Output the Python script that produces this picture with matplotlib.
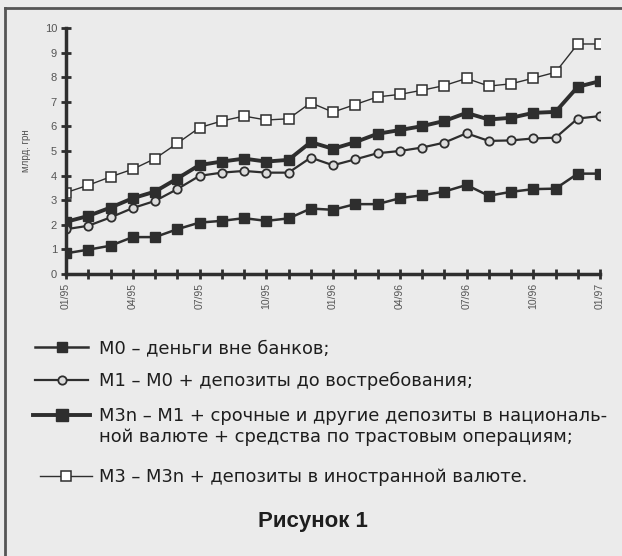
import numpy as np
import matplotlib.pyplot as plt
from matplotlib.lines import Line2D

plt.rcParams['font.family'] = ['Liberation Sans', 'DejaVu Sans']

# months 01/95 .. 01/97
months = ['01/95', '02/95', '03/95', '04/95', '05/95', '06/95', '07/95', '08/95', '09/95',
          '10/95', '11/95', '12/95', '01/96', '02/96', '03/96', '04/96', '05/96', '06/96',
          '07/96', '08/96', '09/96', '10/96', '11/96', '12/96', '01/97']
tick_labels = ['01/95', '04/95', '07/95', '10/95', '01/96', '04/96', '07/96', '10/96', '01/97']

m0 = [0.84, 0.99, 1.15, 1.50, 1.50, 1.82, 2.09, 2.16, 2.27, 2.16, 2.26, 2.66, 2.61,
      2.84, 2.84, 3.08, 3.20, 3.35, 3.62, 3.18, 3.34, 3.45, 3.47, 4.08, 4.08]
m1 = [1.82, 1.96, 2.30, 2.68, 2.97, 3.45, 3.99, 4.12, 4.19, 4.12, 4.12, 4.73, 4.42,
      4.66, 4.91, 5.00, 5.14, 5.34, 5.72, 5.41, 5.43, 5.51, 5.54, 6.32, 6.42]
m3n = [2.12, 2.36, 2.70, 3.08, 3.35, 3.88, 4.43, 4.57, 4.69, 4.57, 4.64, 5.36, 5.09,
       5.36, 5.70, 5.85, 6.01, 6.22, 6.55, 6.28, 6.35, 6.55, 6.59, 7.61, 7.84]
m3 = [3.31, 3.61, 3.95, 4.26, 4.69, 5.31, 5.95, 6.22, 6.42, 6.26, 6.31, 6.96, 6.58,
      6.89, 7.20, 7.30, 7.47, 7.66, 7.95, 7.64, 7.73, 7.96, 8.20, 9.35, 9.35]

legend_lines = ['M0 – деньги вне банков;',
                'M1 – M0 + депозиты до востребования;',
                'M3n – M1 + срочные и другие депозиты в националь-',
                'ной валюте + средства по трастовым операциям;',
                'M3 – M3n + депозиты в иностранной валюте.']

bg = '#ebebeb'
ink = '#2e2e2e'
W, H = 622, 556

fig = plt.figure(figsize=(6.22, 5.56), dpi=100, facecolor=bg)
ax = fig.add_axes([66 / W, 1 - 274 / H, (600 - 66) / W, (274 - 28) / H])
ax.set_facecolor(bg)

x = np.arange(len(months))
ax.plot(x, m3, color=ink, lw=1.0, marker='s', ms=6.5, mfc='white', mec=ink, mew=1.1)
ax.plot(x, m3n, color=ink, lw=2.8, marker='s', ms=7.5, mfc=ink, mec=ink)
ax.plot(x, m1, color=ink, lw=1.6, marker='o', ms=6, mfc='#dddddd', mec=ink, mew=1.3)
ax.plot(x, m0, color=ink, lw=1.8, marker='s', ms=7, mfc=ink, mec=ink)

ax.set_xlim(0, 24)
ax.set_ylim(0, 10)
for s in ['top', 'right']:
    ax.spines[s].set_visible(False)
for s in ['left', 'bottom']:
    ax.spines[s].set_linewidth(2.5)
    ax.spines[s].set_color(ink)

ax.set_yticks(range(0, 11))
ax.set_xticks(x)
ax.set_xticklabels([m if m in tick_labels else '' for m in months], rotation=90,
                   fontsize=7.5, color='#555555')
ax.tick_params(axis='both', direction='inout', length=7, width=2, color=ink)
ax.tick_params(axis='y', labelsize=8, labelcolor='#555555', pad=3)
ax.tick_params(axis='x', pad=3)
ax.set_ylabel('млрд. грн', fontsize=7, color='#555555', labelpad=10)

# legend drawn by hand
def fx(px):
    return px / W

def fy(py):
    return 1 - py / H

styles = [dict(lw=1.8, marker='s', ms=7, mfc=ink, mec=ink),
          dict(lw=1.6, marker='o', ms=6, mfc='#dddddd', mec=ink, mew=1.3),
          dict(lw=2.8, marker='s', ms=8, mfc=ink, mec=ink),
          dict(lw=1.0, marker='s', ms=6.5, mfc='white', mec=ink, mew=1.1)]
rows = [347, 380, 415, 476]
x0 = [35, 35, 33, 40]
x1 = [88, 88, 90, 92]
for st, r, a, b in zip(styles, rows, x0, x1):
    fig.add_artist(Line2D([fx(a), fx(b)], [fy(r), fy(r)], color=ink, lw=st['lw']))
    fig.add_artist(Line2D([fx((a + b) / 2)], [fy(r)], ls='none', color=ink,
                          **{k: v for k, v in st.items() if k != 'lw'}))

tx = fx(99)
text_rows = [348, 381, 416, 437, 477]
for t, r in zip(legend_lines, text_rows):
    fig.text(tx, fy(r), t, fontsize=12.9, family='DejaVu Sans', va='center', color='#1e1e1e')
fig.text(fx(313), fy(522), 'Рисунок 1', fontsize=16, fontweight='bold', ha='center',
         va='center', color='#1e1e1e')

# frame of the scanned figure
fig.add_artist(Line2D([fx(5), fx(5)], [fy(8), 0], color='#555555', lw=2))
fig.add_artist(Line2D([fx(5), 1], [fy(8), fy(8)], color='#555555', lw=2))

fig.savefig('out.png', dpi=100, facecolor=bg)
